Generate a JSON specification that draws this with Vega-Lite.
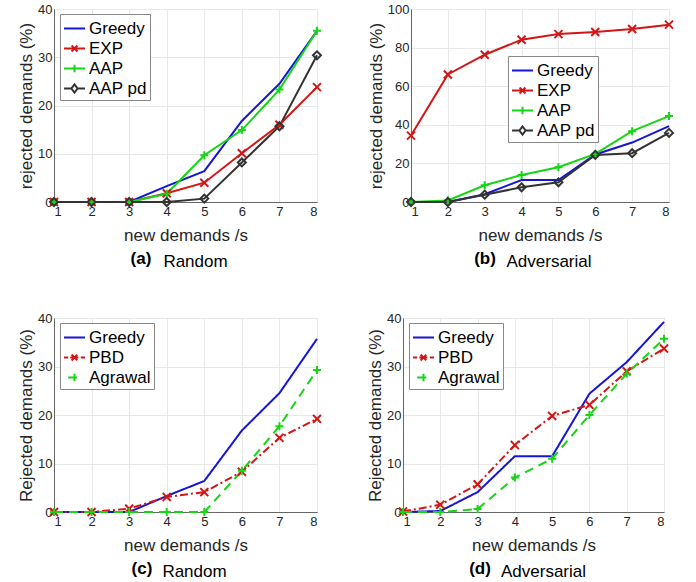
{
  "$schema": "https://vega.github.io/schema/vega-lite/v6.json",
  "background": "white",
  "padding": {"left": 17, "top": 2, "right": 4, "bottom": 1},
  "config": {
    "font": "Liberation Sans",
    "view": {"stroke": "#bbbbbb", "strokeWidth": 1},
    "axis": {
      "labelFont": "Liberation Sans", "labelFontSize": 13, "labelColor": "#262626",
      "titleFont": "Liberation Sans", "titleFontSize": 17, "titleFontWeight": "normal", "titleColor": "#262626",
      "domainColor": "#666666", "gridColor": "#e8e8e8", "ticks": false, "labelPadding": 3
    },
    "title": {"font": "Liberation Sans", "fontSize": 17, "color": "#000000"},
    "legend": {
      "orient": "none", "title": null, "labelFont": "Liberation Sans", "labelFontSize": 17, "labelColor": "#000000",
      "strokeColor": "#888888", "fillColor": "white", "padding": 3, "rowPadding": 0, "labelOffset": 3, "symbolSize": 441, "symbolStrokeWidth": 2
    },
    "concat": {"spacing": 46}
  },
  "datasets": {
    "A": [
      {"s": "Greedy", "n": 1, "v": 0}, {"s": "Greedy", "n": 2, "v": 0}, {"s": "Greedy", "n": 3, "v": 0}, {"s": "Greedy", "n": 4, "v": 3.3}, {"s": "Greedy", "n": 5, "v": 6.4}, {"s": "Greedy", "n": 6, "v": 16.8}, {"s": "Greedy", "n": 7, "v": 24.5}, {"s": "Greedy", "n": 8, "v": 35.5},
      {"s": "EXP", "n": 1, "v": 0}, {"s": "EXP", "n": 2, "v": 0}, {"s": "EXP", "n": 3, "v": 0}, {"s": "EXP", "n": 4, "v": 1.8}, {"s": "EXP", "n": 5, "v": 4.0}, {"s": "EXP", "n": 6, "v": 10.1}, {"s": "EXP", "n": 7, "v": 16.0}, {"s": "EXP", "n": 8, "v": 23.8},
      {"s": "AAP", "n": 1, "v": 0}, {"s": "AAP", "n": 2, "v": 0}, {"s": "AAP", "n": 3, "v": 0}, {"s": "AAP", "n": 4, "v": 1.7}, {"s": "AAP", "n": 5, "v": 9.7}, {"s": "AAP", "n": 6, "v": 14.9}, {"s": "AAP", "n": 7, "v": 23.3}, {"s": "AAP", "n": 8, "v": 35.5},
      {"s": "AAP pd", "n": 1, "v": 0}, {"s": "AAP pd", "n": 2, "v": 0}, {"s": "AAP pd", "n": 3, "v": 0}, {"s": "AAP pd", "n": 4, "v": 0}, {"s": "AAP pd", "n": 5, "v": 0.7}, {"s": "AAP pd", "n": 6, "v": 8.2}, {"s": "AAP pd", "n": 7, "v": 15.7}, {"s": "AAP pd", "n": 8, "v": 30.4}
    ],
    "B": [
      {"s": "Greedy", "n": 1, "v": 0}, {"s": "Greedy", "n": 2, "v": 0}, {"s": "Greedy", "n": 3, "v": 4.0}, {"s": "Greedy", "n": 4, "v": 11.4}, {"s": "Greedy", "n": 5, "v": 11.4}, {"s": "Greedy", "n": 6, "v": 24.6}, {"s": "Greedy", "n": 7, "v": 30.8}, {"s": "Greedy", "n": 8, "v": 39.3},
      {"s": "EXP", "n": 1, "v": 34.4}, {"s": "EXP", "n": 2, "v": 66.1}, {"s": "EXP", "n": 3, "v": 76.3}, {"s": "EXP", "n": 4, "v": 84.1}, {"s": "EXP", "n": 5, "v": 87.0}, {"s": "EXP", "n": 6, "v": 88.1}, {"s": "EXP", "n": 7, "v": 89.6}, {"s": "EXP", "n": 8, "v": 91.9},
      {"s": "AAP", "n": 1, "v": 0}, {"s": "AAP", "n": 2, "v": 0.8}, {"s": "AAP", "n": 3, "v": 8.7}, {"s": "AAP", "n": 4, "v": 14.0}, {"s": "AAP", "n": 5, "v": 18.0}, {"s": "AAP", "n": 6, "v": 24.9}, {"s": "AAP", "n": 7, "v": 36.7}, {"s": "AAP", "n": 8, "v": 44.5},
      {"s": "AAP pd", "n": 1, "v": 0}, {"s": "AAP pd", "n": 2, "v": 0}, {"s": "AAP pd", "n": 3, "v": 3.8}, {"s": "AAP pd", "n": 4, "v": 7.6}, {"s": "AAP pd", "n": 5, "v": 10.2}, {"s": "AAP pd", "n": 6, "v": 24.4}, {"s": "AAP pd", "n": 7, "v": 25.3}, {"s": "AAP pd", "n": 8, "v": 35.8}
    ],
    "C": [
      {"s": "Greedy", "n": 1, "v": 0}, {"s": "Greedy", "n": 2, "v": 0}, {"s": "Greedy", "n": 3, "v": 0}, {"s": "Greedy", "n": 4, "v": 3.3}, {"s": "Greedy", "n": 5, "v": 6.4}, {"s": "Greedy", "n": 6, "v": 16.8}, {"s": "Greedy", "n": 7, "v": 24.5}, {"s": "Greedy", "n": 8, "v": 35.7},
      {"s": "PBD", "n": 1, "v": 0}, {"s": "PBD", "n": 2, "v": 0}, {"s": "PBD", "n": 3, "v": 0.7}, {"s": "PBD", "n": 4, "v": 3.1}, {"s": "PBD", "n": 5, "v": 4.1}, {"s": "PBD", "n": 6, "v": 8.3}, {"s": "PBD", "n": 7, "v": 15.3}, {"s": "PBD", "n": 8, "v": 19.2},
      {"s": "Agrawal", "n": 1, "v": 0}, {"s": "Agrawal", "n": 2, "v": 0}, {"s": "Agrawal", "n": 3, "v": 0}, {"s": "Agrawal", "n": 4, "v": 0}, {"s": "Agrawal", "n": 5, "v": 0}, {"s": "Agrawal", "n": 6, "v": 8.5}, {"s": "Agrawal", "n": 7, "v": 17.7}, {"s": "Agrawal", "n": 8, "v": 29.3}
    ],
    "D": [
      {"s": "Greedy", "n": 1, "v": 0}, {"s": "Greedy", "n": 2, "v": 0.2}, {"s": "Greedy", "n": 3, "v": 4.1}, {"s": "Greedy", "n": 4, "v": 11.5}, {"s": "Greedy", "n": 5, "v": 11.5}, {"s": "Greedy", "n": 6, "v": 24.4}, {"s": "Greedy", "n": 7, "v": 30.9}, {"s": "Greedy", "n": 8, "v": 39.2},
      {"s": "PBD", "n": 1, "v": 0.1}, {"s": "PBD", "n": 2, "v": 1.5}, {"s": "PBD", "n": 3, "v": 5.7}, {"s": "PBD", "n": 4, "v": 13.8}, {"s": "PBD", "n": 5, "v": 19.8}, {"s": "PBD", "n": 6, "v": 22.1}, {"s": "PBD", "n": 7, "v": 29.0}, {"s": "PBD", "n": 8, "v": 33.7},
      {"s": "Agrawal", "n": 1, "v": 0}, {"s": "Agrawal", "n": 2, "v": 0}, {"s": "Agrawal", "n": 3, "v": 0.6}, {"s": "Agrawal", "n": 4, "v": 7.1}, {"s": "Agrawal", "n": 5, "v": 11.0}, {"s": "Agrawal", "n": 6, "v": 20.0}, {"s": "Agrawal", "n": 7, "v": 28.5}, {"s": "Agrawal", "n": 8, "v": 35.7}
    ]
  },
  "spacing": 40,
  "resolve": {"scale": {"color": "independent", "shape": "independent", "strokeDash": "independent"}, "legend": {"color": "independent"}},
  "vconcat": [
    {
      "resolve": {"scale": {"color": "independent", "shape": "independent", "strokeDash": "independent"}, "legend": {"color": "independent"}},
      "spacing": 40,
      "hconcat": [
        {
          "title": {"text": "(a)", "orient": "bottom", "anchor": "middle", "frame": "group", "fontWeight": "bold", "dx": 87, "dy": -24},
          "vconcat": [
            {
              "title": {"text": "Random", "orient": "bottom", "anchor": "middle", "frame": "group", "fontWeight": "normal", "dx": 10, "offset": 11},
              "width": 263, "height": 193,
              "data": {"name": "A"},
              "encoding": {
                "x": {"field": "n", "type": "quantitative", "scale": {"domain": [1, 8], "nice": false}, "axis": {"values": [1,2,3,4,5,6,7,8], "title": "new demands /s", "titlePadding": 9}},
                "y": {"field": "v", "type": "quantitative", "scale": {"domain": [0, 40], "nice": false}, "axis": {"values": [0,10,20,30,40], "title": "rejected demands (%)", "titlePadding": 2, "labelPadding": 2}},
                "color": {"field": "s", "type": "nominal", "scale": {"domain": ["Greedy", "EXP", "AAP", "AAP pd"], "range": ["#1515d5", "#d41515", "#15d515", "#333333"]},
                  "legend": {"legendX": 6, "legendY": 5, "encode": {"symbols": {"update": {"shape": {"signal": "datum.value === 'Greedy' ? 'M-1,0H1' : datum.value === 'AAP pd' ? 'M-1,0H-0.3L0,-0.4L0.3,0H1M0.3,0L0,0.4L-0.3,0' : datum.value === 'AAP' ? 'M-1,0H1M0,-0.35V0.35' : 'M-1,0H1M-0.28,-0.28L0.28,0.28M-0.28,0.28L0.28,-0.28'"}, "fill": {"value": "transparent"}, "strokeWidth": {"value": 2}}}}}}
              },
              "layer": [
                {"mark": {"type": "line", "strokeWidth": 2}},
                {"transform": [{"filter": "datum.s !== 'Greedy'"}],
                 "mark": {"type": "point", "filled": false, "strokeWidth": 2, "opacity": 1},
                 "encoding": {"shape": {"field": "s", "type": "nominal", "legend": null, "scale": {"domain": ["EXP", "AAP", "AAP pd"], "range": ["M-1,-1L1,1M-1,1L1,-1", "M-1,0H1M0,-1V1", "diamond"]}},
                   "size": {"value": 64}}}
              ]
            }
          ]
        },
        {
          "title": {"text": "(b)", "orient": "bottom", "anchor": "middle", "frame": "group", "fontWeight": "bold", "dx": 74, "dy": -24},
          "vconcat": [
            {
              "title": {"text": "Adversarial", "orient": "bottom", "anchor": "middle", "frame": "group", "fontWeight": "normal", "dx": 9, "offset": 11},
              "width": 258, "height": 193,
              "data": {"name": "B"},
              "encoding": {
                "x": {"field": "n", "type": "quantitative", "scale": {"domain": [1, 8], "nice": false}, "axis": {"values": [1,2,3,4,5,6,7,8], "title": "new demands /s", "titlePadding": 9}},
                "y": {"field": "v", "type": "quantitative", "scale": {"domain": [0, 100], "nice": false}, "axis": {"values": [0,20,40,60,80,100], "title": "rejected demands (%)", "titlePadding": 2, "labelPadding": 2}},
                "color": {"field": "s", "type": "nominal", "scale": {"domain": ["Greedy", "EXP", "AAP", "AAP pd"], "range": ["#1515d5", "#d41515", "#15d515", "#333333"]},
                  "legend": {"legendX": 97, "legendY": 47, "encode": {"symbols": {"update": {"shape": {"signal": "datum.value === 'Greedy' ? 'M-1,0H1' : datum.value === 'AAP pd' ? 'M-1,0H-0.3L0,-0.4L0.3,0H1M0.3,0L0,0.4L-0.3,0' : datum.value === 'AAP' ? 'M-1,0H1M0,-0.35V0.35' : 'M-1,0H1M-0.28,-0.28L0.28,0.28M-0.28,0.28L0.28,-0.28'"}, "fill": {"value": "transparent"}, "strokeWidth": {"value": 2}}}}}}
              },
              "layer": [
                {"mark": {"type": "line", "strokeWidth": 2}},
                {"transform": [{"filter": "datum.s !== 'Greedy'"}],
                 "mark": {"type": "point", "filled": false, "strokeWidth": 2, "opacity": 1},
                 "encoding": {"shape": {"field": "s", "type": "nominal", "legend": null, "scale": {"domain": ["EXP", "AAP", "AAP pd"], "range": ["M-1,-1L1,1M-1,1L1,-1", "M-1,0H1M0,-1V1", "diamond"]}},
                   "size": {"value": 64}}}
              ]
            }
          ]
        }
      ]
    },
    {
      "resolve": {"scale": {"color": "independent", "shape": "independent", "strokeDash": "independent"}, "legend": {"color": "independent"}},
      "spacing": 40,
      "hconcat": [
        {
          "title": {"text": "(c)", "orient": "bottom", "anchor": "middle", "frame": "group", "fontWeight": "bold", "dx": 88, "dy": -24},
          "vconcat": [
            {
              "title": {"text": "Random", "orient": "bottom", "anchor": "middle", "frame": "group", "fontWeight": "normal", "dx": 9, "offset": 11},
              "width": 263, "height": 194,
              "data": {"name": "C"},
              "encoding": {
                "x": {"field": "n", "type": "quantitative", "scale": {"domain": [1, 8], "nice": false}, "axis": {"values": [1,2,3,4,5,6,7,8], "title": "new demands /s", "titlePadding": 9}},
                "y": {"field": "v", "type": "quantitative", "scale": {"domain": [0, 40], "nice": false}, "axis": {"values": [0,10,20,30,40], "title": "Rejected demands (%)", "titlePadding": 2, "labelPadding": 2}},
                "color": {"field": "s", "type": "nominal", "scale": {"domain": ["Greedy", "PBD", "Agrawal"], "range": ["#1515d5", "#d41515", "#15d515"]},
                  "legend": {"legendX": 6, "legendY": 5, "encode": {"symbols": {"update": {"shape": {"signal": "datum.value === 'Greedy' ? 'M-1,0H1' : datum.value === 'Agrawal' ? 'M-0.6,0H0.6M0,-0.35V0.35' : 'M-1,0H-0.6M-0.4,0H0.4M0.6,0H1M-0.28,-0.28L0.28,0.28M-0.28,0.28L0.28,-0.28'"}, "fill": {"value": "transparent"}, "strokeWidth": {"value": 2}}}}}},
                "strokeDash": {"field": "s", "type": "nominal", "legend": null, "scale": {"domain": ["Greedy", "PBD", "Agrawal"], "range": [[1, 0], [8, 3, 2, 3], [9, 6]]}}
              },
              "layer": [
                {"mark": {"type": "line", "strokeWidth": 2}},
                {"transform": [{"filter": "datum.s !== 'Greedy'"}],
                 "mark": {"type": "point", "filled": false, "strokeWidth": 2, "opacity": 1},
                 "encoding": {"strokeDash": {"value": [1, 0]}, "shape": {"field": "s", "type": "nominal", "legend": null, "scale": {"domain": ["PBD", "Agrawal"], "range": ["M-1,-1L1,1M-1,1L1,-1", "M-1,0H1M0,-1V1"]}},
                   "size": {"value": 64}}}
              ]
            }
          ]
        },
        {
          "title": {"text": "(d)", "orient": "bottom", "anchor": "middle", "frame": "group", "fontWeight": "bold", "dx": 77, "dy": -24},
          "vconcat": [
            {
              "title": {"text": "Adversarial", "orient": "bottom", "anchor": "middle", "frame": "group", "fontWeight": "normal", "dx": 10, "offset": 11},
              "width": 261, "height": 194,
              "data": {"name": "D"},
              "encoding": {
                "x": {"field": "n", "type": "quantitative", "scale": {"domain": [1, 8], "nice": false}, "axis": {"values": [1,2,3,4,5,6,7,8], "title": "new demands /s", "titlePadding": 9}},
                "y": {"field": "v", "type": "quantitative", "scale": {"domain": [0, 40], "nice": false}, "axis": {"values": [0,10,20,30,40], "title": "Rejected demands (%)", "titlePadding": 2, "labelPadding": 2}},
                "color": {"field": "s", "type": "nominal", "scale": {"domain": ["Greedy", "PBD", "Agrawal"], "range": ["#1515d5", "#d41515", "#15d515"]},
                  "legend": {"legendX": 6, "legendY": 5, "encode": {"symbols": {"update": {"shape": {"signal": "datum.value === 'Greedy' ? 'M-1,0H1' : datum.value === 'Agrawal' ? 'M-0.6,0H0.6M0,-0.35V0.35' : 'M-1,0H-0.6M-0.4,0H0.4M0.6,0H1M-0.28,-0.28L0.28,0.28M-0.28,0.28L0.28,-0.28'"}, "fill": {"value": "transparent"}, "strokeWidth": {"value": 2}}}}}},
                "strokeDash": {"field": "s", "type": "nominal", "legend": null, "scale": {"domain": ["Greedy", "PBD", "Agrawal"], "range": [[1, 0], [8, 3, 2, 3], [9, 6]]}}
              },
              "layer": [
                {"mark": {"type": "line", "strokeWidth": 2}},
                {"transform": [{"filter": "datum.s !== 'Greedy'"}],
                 "mark": {"type": "point", "filled": false, "strokeWidth": 2, "opacity": 1},
                 "encoding": {"strokeDash": {"value": [1, 0]}, "shape": {"field": "s", "type": "nominal", "legend": null, "scale": {"domain": ["PBD", "Agrawal"], "range": ["M-1,-1L1,1M-1,1L1,-1", "M-1,0H1M0,-1V1"]}},
                   "size": {"value": 64}}}
              ]
            }
          ]
        }
      ]
    }
  ]
}
